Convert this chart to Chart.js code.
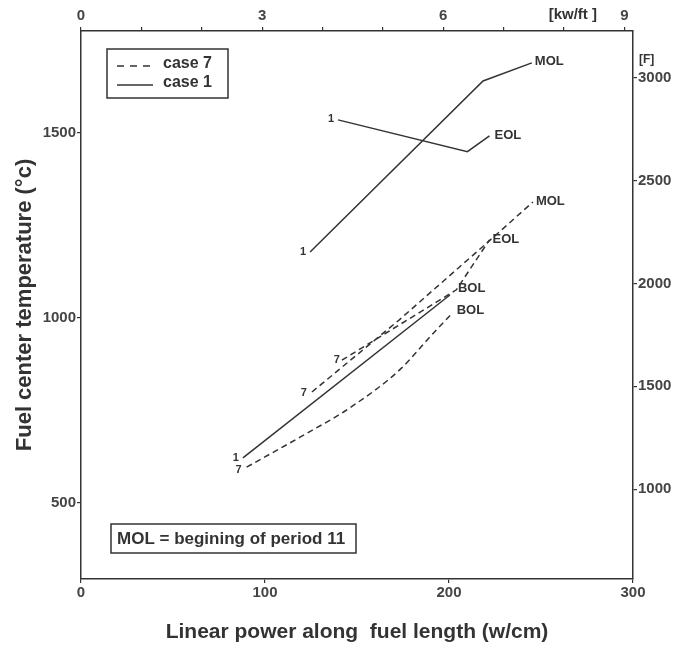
<!DOCTYPE html>
<html>
<head>
<meta charset="utf-8">
<script src="https://cdn.jsdelivr.net/npm/chart.js@4.4.1/dist/chart.umd.min.js"></script>
<style>
html,body{margin:0;padding:0;background:#fff;}
#wrap{width:676px;height:645px;position:relative;}
</style>
</head>
<body>
<div id="wrap"><canvas id="c" width="676" height="645"></canvas></div>
<script>
// ---- data (x: linear power W/cm, y: fuel center temperature °C) ----
const case1_BOL_power = [88, 200.5];
const case1_BOL_temp  = [622, 1062];
const case1_MOL_power = [124.5, 218.5, 245];
const case1_MOL_temp  = [1178, 1640, 1689];
const case1_EOL_power = [139.7, 210, 222];
const case1_EOL_temp  = [1535, 1449, 1492];

const case7_BOL_power = [90, 119, 146, 173, 191.5, 202];
const case7_BOL_temp  = [597, 678, 757, 859, 959, 1014];
const case7_MOL_power = [125.5, 173, 220, 245.6];
const case7_MOL_temp  = [800, 995, 1200, 1313];
const case7_EOL_power = [141.8, 204, 222];
const case7_EOL_temp  = [886, 1076, 1211];

// ---- axes ----
const X_TICKS = [0, 100, 200, 300];
const Y_TICKS = [500, 1000, 1500];
const KWFT_TICKS = [0, 1, 2, 3, 4, 5, 6, 7, 8, 9];
const KWFT_LABELED = [0, 3, 6, 9];
const F_TICKS = [1000, 1500, 2000, 2500, 3000];
const X_MIN = 0, X_MAX = 300;
const Y_MIN = 295, Y_MAX = 1775;
const WCM_PER_KWFT = 1000 / 30.48;
const toF = c => c * 9 / 5 + 32;

const zip = (xs, ys) => xs.map((v, i) => ({x: v, y: ys[i]}));

const INK = '#333';
const FAM = "'Liberation Sans', Arial, sans-serif";
const TICKFONT = {family: FAM, size: 15, weight: 'bold'};

function mkSeries(label, xs, ys, dashed, startLabel, startOff, endLabel, endOff, smooth) {
  return {
    label, data: zip(xs, ys), showLine: true, borderColor: INK, borderWidth: 1.5,
    borderDash: dashed ? [6, 4] : [], pointRadius: 0, fill: false,
    cubicInterpolationMode: smooth ? 'monotone' : 'default', tension: 0,
    startLabel, startOff, endLabel, endOff
  };
}

const datasets = [
  mkSeries('case 1 BOL', case1_BOL_power, case1_BOL_temp, false, '1', [-4, 0], 'BOL', [8, -7]),
  mkSeries('case 1 MOL', case1_MOL_power, case1_MOL_temp, false, '1', [-4, 0], 'MOL', [3, -1]),
  mkSeries('case 1 EOL', case1_EOL_power, case1_EOL_temp, false, '1', [-4, -1], 'EOL', [5, 0]),
  mkSeries('case 7 BOL', case7_BOL_power, case7_BOL_temp, true, '7', [-5, 3], 'BOL', [4, -2], true),
  mkSeries('case 7 MOL', case7_MOL_power, case7_MOL_temp, true, '7', [-5, 1], 'MOL', [3, -1]),
  mkSeries('case 7 EOL', case7_EOL_power, case7_EOL_temp, true, '7', [-2, 0], 'EOL', [3, 0])
];

const overlay = {
  id: 'overlay',
  afterDatasetsDraw(chart) {
    const {ctx, chartArea: a, scales} = chart;
    const sx = scales.x, sy = scales.y;
    ctx.save();
    ctx.fillStyle = INK;
    ctx.textBaseline = 'middle';
    chart.data.datasets.forEach(ds => {
      const p0 = ds.data[0], p1 = ds.data[ds.data.length - 1];
      ctx.font = "bold 11px " + FAM;
      ctx.textAlign = 'right';
      ctx.fillText(ds.startLabel, sx.getPixelForValue(p0.x) + ds.startOff[0], sy.getPixelForValue(p0.y) + ds.startOff[1]);
      ctx.font = "bold 13px " + FAM;
      ctx.textAlign = 'left';
      ctx.fillText(ds.endLabel, sx.getPixelForValue(p1.x) + ds.endOff[0], sy.getPixelForValue(p1.y) + ds.endOff[1]);
    });

    // legend box
    const lx = a.left + 26, ly = a.top + 18, lw = 121, lh = 49;
    ctx.strokeStyle = INK;
    ctx.lineWidth = 1.5;
    ctx.strokeRect(lx, ly, lw, lh);
    ctx.beginPath();
    ctx.setLineDash([7, 6]);
    ctx.moveTo(lx + 10, ly + 17); ctx.lineTo(lx + 46, ly + 17);
    ctx.stroke();
    ctx.setLineDash([]);
    ctx.beginPath();
    ctx.moveTo(lx + 10, ly + 36); ctx.lineTo(lx + 46, ly + 36);
    ctx.stroke();
    ctx.font = "bold 16px " + FAM;
    ctx.textAlign = 'left';
    ctx.fillText('case 7', lx + 56, ly + 15);
    ctx.fillText('case 1', lx + 56, ly + 34);

    // note box
    const nx = a.left + 30, ny = a.bottom - 55, nw = 245, nh = 29;
    ctx.strokeRect(nx, ny, nw, nh);
    ctx.font = "bold 17px " + FAM;
    ctx.fillText('MOL = begining of period 11', nx + 6, ny + nh / 2 + 1);

    // unit labels of secondary axes
    ctx.font = "bold 15px " + FAM;
    ctx.textAlign = 'right';
    ctx.fillText('[kw/ft ]', a.right - 36, 15);
    ctx.font = "bold 12px " + FAM;
    ctx.textAlign = 'left';
    ctx.fillText('[F]', a.right + 6, a.top + 29);
    ctx.restore();
  }
};

const gridOpts = {display: true, drawOnChartArea: false, drawTicks: true, tickLength: 4, color: INK, lineWidth: 1.2};
const borderOpts = {display: true, color: INK, width: 1.5};
const plain = v => String(v);

new Chart(document.getElementById('c'), {
  type: 'scatter',
  data: {datasets},
  options: {
    responsive: false,
    animation: false,
    devicePixelRatio: 1,
    layout: {padding: 0},
    plugins: {legend: {display: false}, tooltip: {enabled: false}},
    scales: {
      x: {
        type: 'linear', position: 'bottom', min: X_MIN, max: X_MAX,
        afterBuildTicks: s => { s.ticks = X_TICKS.map(v => ({value: v})); },
        afterFit: s => { s.height = 66; },
        grid: gridOpts, border: borderOpts,
        ticks: {font: TICKFONT, color: '#444', padding: 1, maxRotation: 0, autoSkip: false, callback: plain},
        title: {display: true, text: 'Linear power along  fuel length (w/cm)', color: INK,
                font: {family: FAM, size: 21, weight: 'bold'},
                padding: {top: 0, bottom: 0}}
      },
      y: {
        type: 'linear', position: 'left', min: Y_MIN, max: Y_MAX,
        afterBuildTicks: s => { s.ticks = Y_TICKS.map(v => ({value: v})); },
        afterFit: s => { s.width = 81; },
        grid: gridOpts, border: borderOpts,
        ticks: {font: TICKFONT, color: '#444', padding: 1, autoSkip: false, callback: plain},
        title: {display: true, text: 'Fuel center temperature (°c)', color: INK,
                font: {family: FAM, size: 22, weight: 'bold'},
                padding: {top: 12, bottom: 0}}
      },
      x2: {
        type: 'linear', position: 'top', min: X_MIN / WCM_PER_KWFT, max: X_MAX / WCM_PER_KWFT,
        afterBuildTicks: s => { s.ticks = KWFT_TICKS.map(v => ({value: v})); },
        afterFit: s => { s.height = 31; },
        grid: gridOpts, border: borderOpts,
        ticks: {font: TICKFONT, color: '#444', padding: 2, maxRotation: 0, autoSkip: false,
                callback: v => KWFT_LABELED.includes(v) ? String(v) : ''}
      },
      y2: {
        type: 'linear', position: 'right', min: toF(Y_MIN), max: toF(Y_MAX),
        afterBuildTicks: s => { s.ticks = F_TICKS.map(v => ({value: v})); },
        afterFit: s => { s.width = 43; },
        grid: gridOpts, border: borderOpts,
        ticks: {font: TICKFONT, color: '#444', padding: 1, autoSkip: false, callback: plain}
      }
    }
  },
  plugins: [overlay]
});
</script>
</body>
</html>
